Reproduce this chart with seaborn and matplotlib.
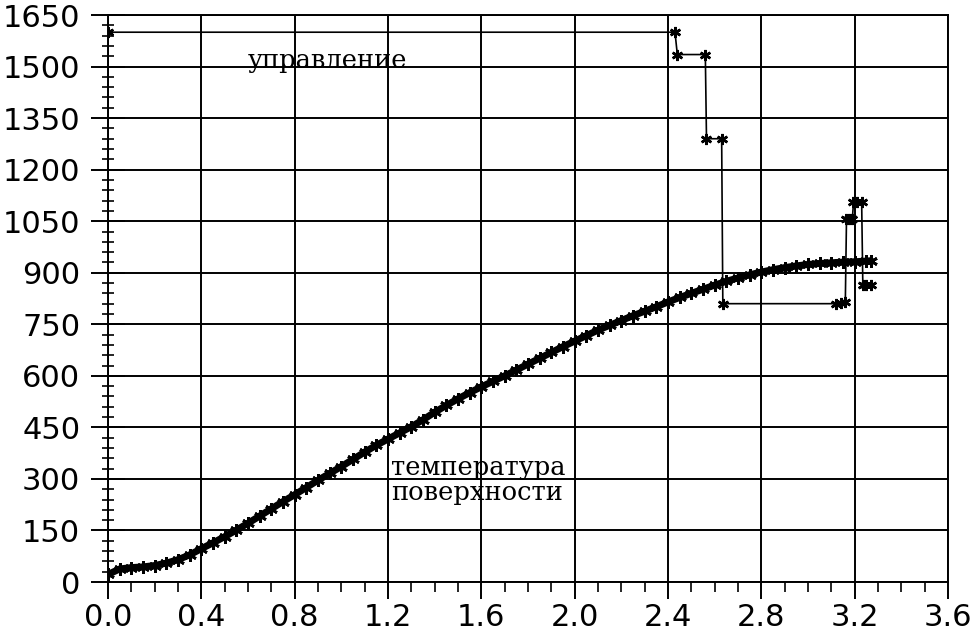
import numpy as np
import matplotlib
matplotlib.use("Agg")
import matplotlib.pyplot as plt
import seaborn as sns
from matplotlib.ticker import MultipleLocator

# surface temperature
temp_t = [0.00, 0.05, 0.10, 0.15, 0.20, 0.25, 0.30, 0.35, 0.40, 0.45,
          0.50, 0.55, 0.60, 0.65, 0.70, 0.75, 0.80, 0.85, 0.90, 0.95,
          1.00, 1.05, 1.10, 1.15, 1.20, 1.25, 1.30, 1.35, 1.40, 1.45,
          1.50, 1.55, 1.60, 1.65, 1.70, 1.75, 1.80, 1.85, 1.90, 1.95,
          2.00, 2.05, 2.10, 2.15, 2.20, 2.25, 2.30, 2.35, 2.40, 2.45,
          2.50, 2.55, 2.60, 2.65, 2.70, 2.75, 2.80, 2.85, 2.90, 2.95,
          3.00, 3.05, 3.10, 3.15, 3.20, 3.25, 3.27]
temp_v = [22, 38, 42, 44, 48, 55, 65, 79, 97, 114,
          132, 151, 171, 192, 213, 234, 254, 275, 296, 316,
          336, 357, 378, 398, 416, 434, 452, 472, 494, 514,
          533, 551, 568, 584, 600, 617, 634, 651, 668, 685,
          701, 717, 733, 747, 761, 775, 788, 801, 815, 828,
          840, 852, 864, 875, 885, 894, 902, 909, 915, 920,
          924, 927, 929, 931, 932, 934, 935]

# control (управление)
ctrl_t = [0.0, 2.43, 2.44, 2.56, 2.565, 2.63, 2.635, 3.12, 3.14, 3.16,
          3.165, 3.175, 3.19, 3.195, 3.21, 3.23, 3.235, 3.25, 3.27]
ctrl_v = [1600, 1600, 1535, 1535, 1290, 1290, 810, 810, 812, 815,
          1055, 1055, 1055, 1105, 1105, 1105, 865, 865, 865]

x_ticks = [0.0, 0.4, 0.8, 1.2, 1.6, 2.0, 2.4, 2.8, 3.2, 3.6]
y_ticks = [0, 150, 300, 450, 600, 750, 900, 1050, 1200, 1350, 1500, 1650]

sns.set_style("white")
plt.rcParams["font.family"] = ["DejaVu Sans"]
plt.rcParams["text.color"] = "black"

fig = plt.figure(figsize=(9.72, 6.34), dpi=100)
ax = fig.add_axes([0.1111, 0.082, 0.8642, 0.8943])

asterisk = (6, 2, 0)
sns.lineplot(x=temp_t, y=temp_v, ax=ax, color="black", lw=5,
             marker=asterisk, markersize=9, markeredgewidth=2,
             markeredgecolor="black", sort=False, estimator=None)
sns.lineplot(x=ctrl_t, y=ctrl_v, ax=ax, color="black", lw=1.2,
             marker=asterisk, markersize=8, markeredgewidth=1.8,
             markeredgecolor="black", sort=False, estimator=None)

ax.set_xlim(0, 3.6)
ax.set_ylim(0, 1650)
ax.set_xticks(x_ticks)
ax.set_xticklabels([f"{t:.1f}" for t in x_ticks])
ax.set_yticks(y_ticks)
ax.xaxis.set_minor_locator(MultipleLocator(0.1))
ax.yaxis.set_minor_locator(MultipleLocator(30))

ax.grid(True, which="major", color="black", lw=1.4)
for s in ax.spines.values():
    s.set_color("black")
    s.set_linewidth(1.4)

ax.tick_params(axis="x", which="major", direction="out", length=12, width=1.4,
               labelsize=22, pad=3, colors="black")
ax.tick_params(axis="x", which="minor", direction="out", length=7, width=1.4)
ax.tick_params(axis="y", which="major", direction="inout", length=24, width=1.4,
               labelsize=22, pad=8, colors="black")
ax.tick_params(axis="y", which="minor", direction="inout", length=8, width=1.4)
ax.tick_params(bottom=True, left=True, which="both")

ax.text(0.60, 1518, "управление", fontsize=18.5, family="DejaVu Serif",
        va="center", ha="left", color="black")
ax.text(1.215, 298, "температура\nповерхности", fontsize=18.5,
        family="DejaVu Serif", va="center", ha="left", linespacing=1.0,
        color="black")

fig.savefig("out.png", dpi=100)
